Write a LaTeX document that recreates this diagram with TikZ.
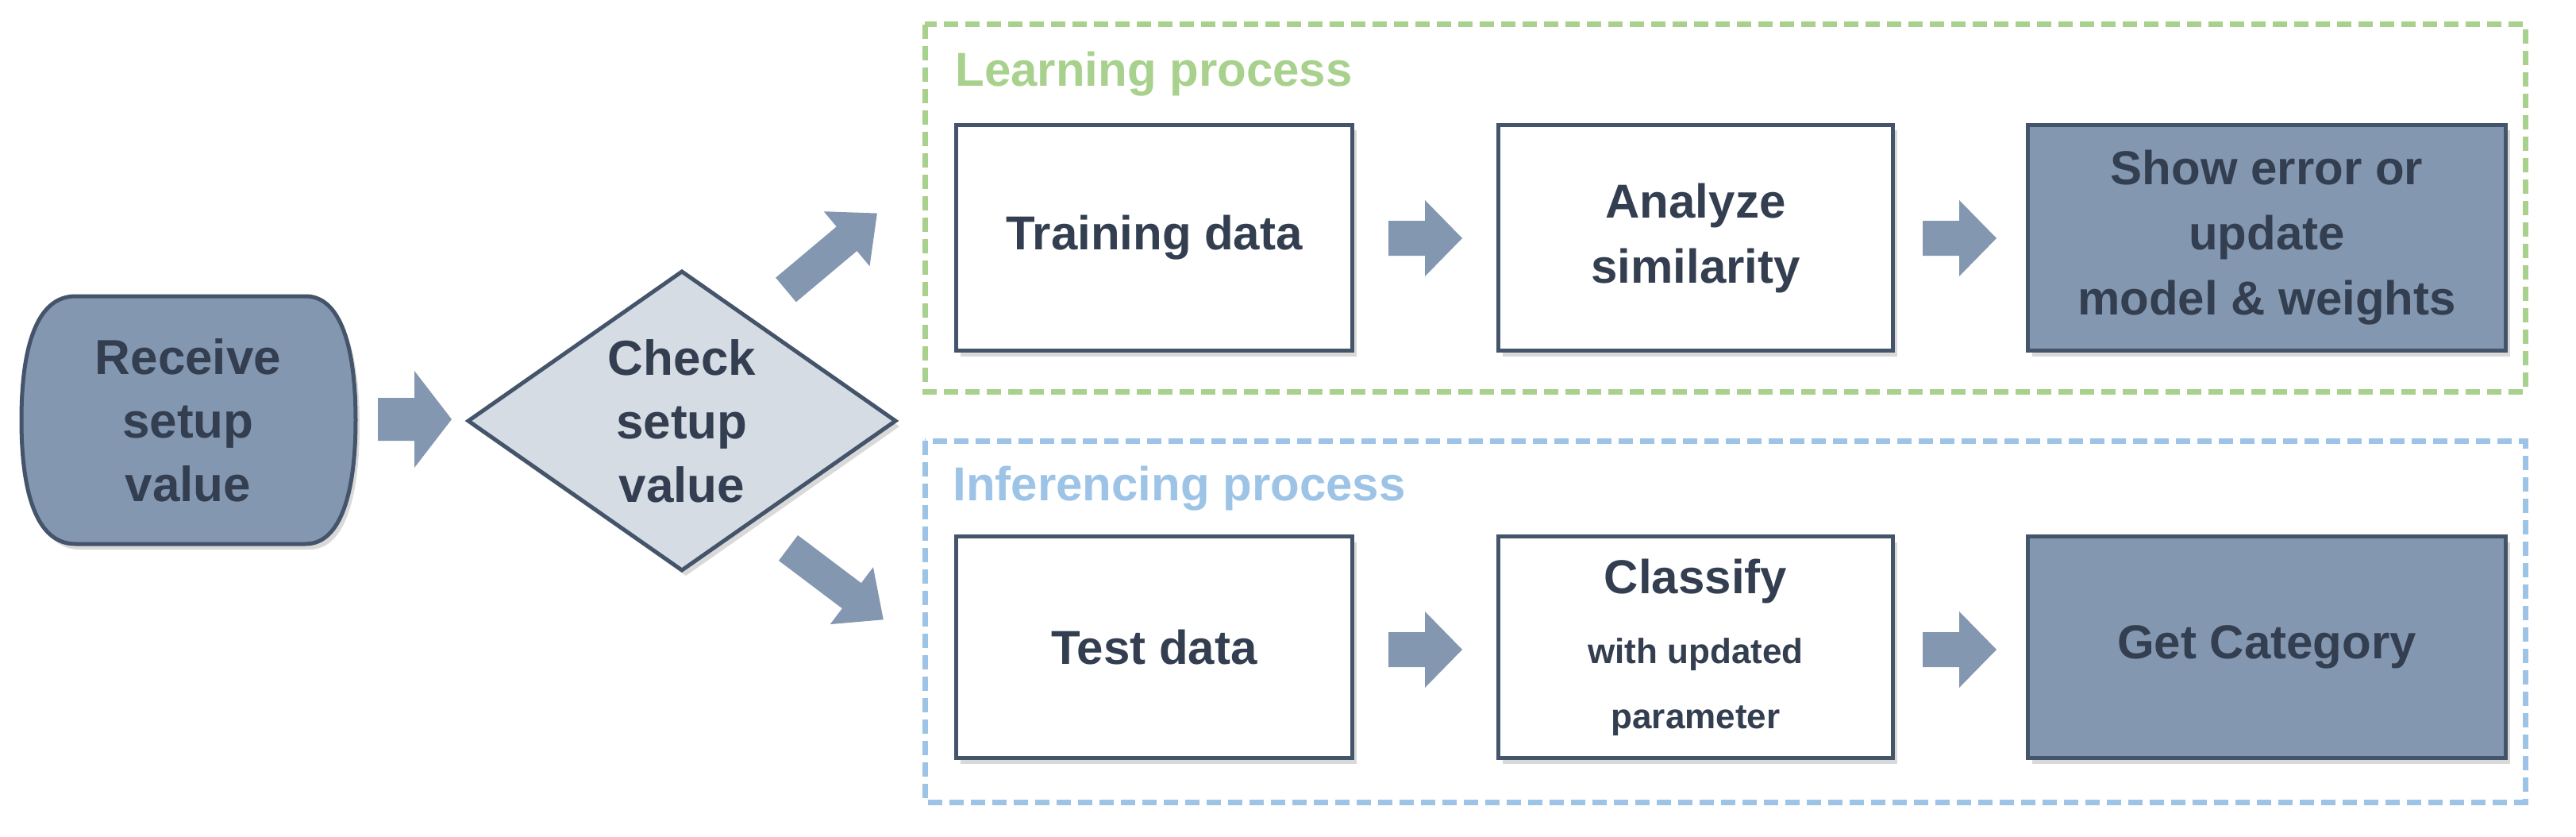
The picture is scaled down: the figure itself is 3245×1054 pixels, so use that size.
\documentclass[tikz,border=0pt]{standalone}
\usepackage{fontspec}
\setmainfont{Liberation Sans}
\usetikzlibrary{shadows}
\definecolor{dk}{HTML}{8497B0}
\definecolor{tx}{HTML}{333F50}
\definecolor{bd}{HTML}{44546A}
\definecolor{lt}{HTML}{D6DCE4}
\definecolor{gr}{HTML}{A9D18E}
\definecolor{bl}{HTML}{9DC3E6}
\tikzset{
  pics/barrow/.style args={#1/#2/#3/#4}{code={
    \fill[dk] (0,-#2) -- ({#1-#4},-#2) -- ({#1-#4},-#3) -- (#1,0) -- ({#1-#4},#3) -- ({#1-#4},#2) -- (0,#2) -- cycle;
  }}
}
\begin{document}
\begin{tikzpicture}[x=1pt,y=-1pt,
  shad/.style={drop shadow={shadow xshift=5pt,shadow yshift=-7pt,opacity=0.3}},
  box/.style={draw=bd,line width=5pt,fill=white,shad,font=\fontsize{60}{82}\selectfont\bfseries,text=tx,align=center,anchor=north west,inner sep=0pt},
  dbox/.style={box,fill=dk},
  frame/.style={dash pattern=on 18pt off 9pt,line width=7pt},
  ttl/.style={font=\fontsize{60}{66}\selectfont\bfseries,anchor=west}]
\useasboundingbox (0,0) rectangle (3245,1054);
% frames
\draw[frame,gr] (1165,31) rectangle (3181,493);
\draw[frame,bl] (1165,555) rectangle (3181,1010);
\node[ttl,text=gr] (lt) at (1200,93) {Learning process};
\node[ttl,text=bl] (it) at (1197,615) {Inferencing process};
% boxes
\node[box,minimum width=499pt,minimum height=284pt] (t1) at (1202,155) {Training data};
\node[box,minimum width=497pt,minimum height=284pt] (t2) at (1885,155) {Analyze\\similarity};
\node[dbox,minimum width=602pt,minimum height=284pt] (t3) at (2552,155) {Show error or\\update\\model \& weights};
\node[box,minimum width=499pt,minimum height=279pt] (b1) at (1202,673) {Test data};
\node[box,minimum width=497pt,minimum height=279pt] (b2) at (1885,673) {Classify\\[6pt]{\fontsize{44}{62}\selectfont with updated}\\{\fontsize{44}{62}\selectfont parameter}};
\node[dbox,minimum width=602pt,minimum height=279pt] (b3) at (2552,673) {Get Category};
% block arrows
\pic at (1749,300) {barrow=93/22/48/47};
\pic at (2422,300) {barrow=93/22/48/47};
\pic at (1749,818) {barrow=93/22/48/47};
\pic at (2422,818) {barrow=93/22/48/47};
% receive
\draw[bd,line width=5pt,fill=dk,shad]
  (95,373) -- (385,373) .. controls (430,373) and (448,440) .. (448,529)
  .. controls (448,618) and (430,685) .. (385,685) -- (95,685)
  .. controls (45,685) and (27,618) .. (27,529) .. controls (27,440) and (45,373) .. (95,373) -- cycle;
\node[font=\fontsize{62}{80}\selectfont\bfseries,text=tx,align=center] (rc) at (237,529) {Receive\\setup\\value};
\pic at (476,528) {barrow=93/27/61/47};
% diamond
\draw[bd,line width=5pt,fill=lt,shad]
  (859,342) -- (1128,530) -- (859,718) -- (590,530) -- cycle;
\node[font=\fontsize{62}{80}\selectfont\bfseries,text=tx,align=center] (ck) at (859,530) {Check\\setup\\value};
% diagonal arrows
\pic[rotate=40] at (990,365) {barrow=150/20/45/50};
\pic[rotate=-37] at (993,690) {barrow=150/20/45/50};
\end{tikzpicture}
\end{document}
